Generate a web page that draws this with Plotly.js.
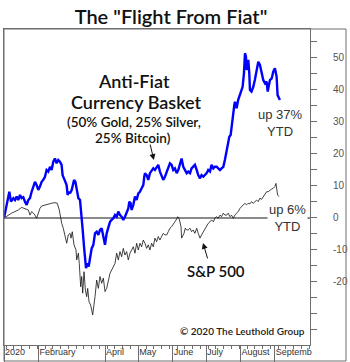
<!DOCTYPE html>
<html>
<head>
<meta charset="utf-8">
<script src="https://cdn.plot.ly/plotly-3.0.1.min.js"></script>
<style>html,body{margin:0;padding:0;background:#fff;}#chart{width:350px;height:362px;}</style>
</head>
<body>
<div id="chart"></div>
<script>
// Days since Jan 1, 2020 and YTD % change
const basketDays = [0,4.8,6.3,8.4,9.9,11.4,12.9,14.4,15.9,17.4,18.9,20.4,21.9,23.4,24.9,26.4,27.9,29.4,30.9,32.4,33.9,35.4,36.9,38.4,39.9,41.4,42.9,44.4,45.9,47.4,48.9,50.4,51.9,52.8,54.1,55.3,56.4,57.3,58.6,59.5,61,61.9,63.1,64.3,65.5,67,68.5,69.4,70.3,70.9,72.1,73,73.9,75.1,76.3,77.5,79,80.5,82,83.5,85,86.5,88,89.5,91,92.5,94,95.5,97,98.5,100,101.5,103,104.5,106,107.5,109,110.5,112,112.9,114.1,115,116.5,118,119.5,121,122.5,124,125.5,126.4,127,128.5,130,131.5,133,134.5,136,137.5,139,140.5,142,143.5,145,146.6,148,149.5,151,152.5,154,155.6,157,158.6,160,161.5,163,164.6,166,167.6,169,170.5,172,173.6,175,176.6,178,179.6,181,182.6,184,185.6,187,188.6,190,191.6,193,194.6,196,197.6,199,200.6,202,203,204.2,205.1,206,206.6,207.5,208.1,209.6,211,212.6,214,215,216.2,217.1,218,218.6,219.5,220.1,221,221.6,223,224.6,226,227.6,229.1,230.6,232.2,233.6,235.1,236.6,237.6,238.7,239.6,241.2,242.6,244.1,245.6,246.5,247.7,248.6];
const basketValues = [0,8.2,5.1,6.2,5.6,6.7,5.6,7.2,6.2,6.5,5.1,4.1,5.6,6.2,8.2,9.8,11.3,10.3,8.75,9.8,11.3,11.9,12.9,15,14.5,16,15,17.6,18.6,17.1,18.1,17.6,16.6,13.4,11.9,11.3,10.3,7.2,8.2,7.7,8.75,10.3,11.9,11.3,8.75,6.2,5.6,2.5,-0.1,-3.75,-9,-14.2,-15.7,-14.2,-15.2,-12.6,-9.5,-8.4,-4.8,-4.3,-5.3,-3.75,-3.2,-5.8,-8.4,-4.8,-2.7,-1.2,-0.6,-0.1,0.9,0.4,2,0.9,0.4,-0.6,0.4,1.5,3,5.1,4.6,2.5,4.1,6.7,5.6,7.7,8.2,9.3,10.3,12.9,14,13.4,11.9,14,15,15.5,15,16,16.6,14.5,12.9,11.9,12.9,14.5,15.5,17.1,16.6,15,15.5,14,15,17.1,18.6,16,15,14,14.5,14,15.5,16,16.6,15,13.4,12.4,13.4,12.9,13.4,14,15,14.5,16.6,15.5,16,16,15.5,15,15.5,16,18.1,21.25,23.3,25.4,25.9,28.5,31.7,34.3,35.3,36.3,34.3,36.9,38.4,40,41,45.2,51.5,50.4,46.25,47.8,49.4,45.2,40,39.5,41,43.1,46.25,48.8,47.8,45.2,43.1,42.1,42.6,39.5,42.1,43.1,43.6,45.7,46.8,44.2,38.4,37.4,36.9];

const spxDays = [0,3.9,6.9,9.9,12.9,15.9,18.9,21.9,23.4,24.9,26.4,27.9,29.4,30.9,32.4,33.9,36.9,39.9,42.9,45.9,48,49.8,51.1,52,53.4,55,56.5,57.9,59.5,60.4,61.5,63.1,64.9,65.5,67,67.8,69.1,70,70.9,72.1,73.3,74.5,75.4,76.6,78.1,79.9,81.1,82,83.5,85,86.5,88,89.5,91,92.5,94,95.5,97,100,101.5,103,104.5,106,107.5,109,110.5,112,113.5,115,116.5,118,119.5,121,122.5,124,125.5,127,128.5,130,131.5,133,134.5,136,137.5,139,140.5,142,143.5,145,146.6,148,149.5,151,152.5,154,155.6,156.5,157.7,158.6,159.5,160,161,162.2,163.3,164.6,166,167.6,169,170.5,172,173.6,175,176.6,178,179.6,181,182.6,184,185.6,187,188.6,190,191.6,193,194.6,196,197.6,199,200.6,202,203.6,205,206.6,208,209.6,211,212.6,214,215.6,217,218.6,220,221.6,223,224.6,226,227.6,229,230.6,232,233.6,235,236.6,238,239.6,241,242.6,244,245,245.6,246.5,247.7];
const spxValues = [0,0.9,1.5,2,2.5,3.3,3,2.5,0.9,2,1.5,0.9,-0.1,1.5,3,3.75,4.1,4.4,4.6,4.8,4.6,2.5,-0.6,-1.7,-3.2,-5.8,-7.9,-5.3,-4.8,-6.3,-4.3,-8.4,-10,-13.1,-11,-14.2,-21.5,-18.3,-23.5,-16.8,-22.5,-24.6,-22,-26.2,-27.2,-30.3,-27.7,-24.6,-19.4,-22,-18.3,-20.4,-18.8,-23,-22,-19.4,-17.3,-16.25,-14.2,-11,-13.1,-10.5,-12.1,-9.5,-11.6,-10.5,-13.1,-11,-10,-9,-11,-7.9,-10,-7.9,-9,-6.9,-7.9,-9.5,-8.4,-10,-7.9,-9,-6.3,-7.4,-5.8,-6.9,-5.8,-4.8,-5.3,-5.3,-4.3,-3.2,-2.7,-1.7,-1.2,-0.3,0.4,-0.1,-1.2,-2.7,-6.3,-5.8,-4.8,-3.2,-3.75,-3.75,-3.2,-4.3,-3.75,-4.8,-3.2,-4.8,-6.3,-5.3,-4.3,-3.75,-2.7,-1.7,-1.2,-0.6,-1.2,-0.1,0.4,-0.1,0.9,0.4,1.5,0.9,0.9,1.5,0.4,0.9,-0.1,0.9,1.5,2,3,3.5,4.1,4.6,4.1,4.6,4.4,5.1,4.6,5.1,5.6,5.1,6.2,5.8,6.7,7.2,8.2,8.2,8.75,9,9.3,9.8,10.8,9.8,7.2,6.7];

const monthTickDays = [0,31,91,121,152,182,213,244];
const monthTickLabels = ['2020','February','April','May','June','July','August','Septemb'];
const yTickValues = [-20,-10,0,10,20,30,40,50];
const yTickLabels = ['-20','-10','0','10','20','30','40','50'];

const frame = '#6e6e6e';
const traces = [
  {x: spxDays, y: spxValues, type: 'scatter', mode: 'lines', line: {color: '#111', width: 0.8}, hoverinfo: 'skip'},
  {x: basketDays, y: basketValues, type: 'scatter', mode: 'lines', line: {color: '#0000ff', width: 2.4}, hoverinfo: 'skip'}
];

const gothic = 'Lato, "Noto Sans", sans-serif';
const layout = {
  width: 350, height: 362,
  margin: {l: 4, r: 40, t: 29, b: 17, pad: 0},
  paper_bgcolor: '#fff', plot_bgcolor: '#fff',
  showlegend: false,
  title: {text: 'The "Flight From Fiat"', x: 171/350, xanchor: 'center', y: 1 - 17/362, yanchor: 'middle', xref: 'container', yref: 'container',
    font: {family: gothic, size: 20, color: '#111', weight: 600}},
  xaxis: {
    range: [0, 275.7], tickmode: 'array', tickvals: monthTickDays, ticktext: monthTickLabels,
    tickangle: 0, automargin: false,
    ticks: 'outside', ticklen: 17, tickwidth: 1, tickcolor: frame,
    showline: true, linecolor: frame, linewidth: 1, mirror: true,
    showgrid: false, zeroline: false,
    ticklabelposition: 'outside right', ticklabelstandoff: -2,
    tickfont: {family: '"Liberation Sans", Arial, sans-serif', size: 9, color: '#333'},
    minor: {tickmode: 'linear', tick0: 2, dtick: 7, ticks: 'outside', ticklen: 3, tickwidth: 1, tickcolor: frame, showgrid: false}
  },
  yaxis: {
    side: 'right', range: [-39.7, 59.06], tickmode: 'array', tickvals: yTickValues, ticktext: yTickLabels,
    automargin: false,
    ticks: 'outside', ticklen: 6, tickwidth: 1, tickcolor: frame,
    showline: true, linecolor: frame, linewidth: 1, mirror: true,
    showgrid: false, zeroline: true, zerolinecolor: '#8a8a8a', zerolinewidth: 1.5,
    ticklabelstandoff: 14,
    tickfont: {family: '"Liberation Sans", Arial, sans-serif', size: 10, color: '#555'},
    minor: {tickmode: 'linear', tick0: 0, dtick: 5, ticks: 'outside', ticklen: 6, tickwidth: 1, tickcolor: frame, showgrid: false}
  },
  shapes: [
    {type: 'rect', xref: 'paper', yref: 'paper', x0: 0, x1: 342/306, y0: -16/316, y1: 1, line: {color: frame, width: 1}, fillcolor: 'rgba(0,0,0,0)', layer: 'above'}
  ],
  annotations: [
    {text: 'Anti-Fiat', xref: 'paper', yref: 'paper', x: 130/306, y: (345-81)/316, xanchor: 'center', yanchor: 'middle', showarrow: false,
      font: {family: gothic, size: 18, color: '#111', weight: 600}},
    {text: 'Currency Basket', xref: 'paper', yref: 'paper', x: 132/306, y: (345-101.5)/316, xanchor: 'center', yanchor: 'middle', showarrow: false,
      font: {family: gothic, size: 18, color: '#111', weight: 600}},
    {text: '(50% Gold, 25% Silver,', xref: 'paper', yref: 'paper', x: 129.5/306, y: (345-121.5)/316, xanchor: 'center', yanchor: 'middle', showarrow: false,
      font: {family: gothic, size: 13.5, color: '#111', weight: 600}},
    {text: '25% Bitcoin)', xref: 'paper', yref: 'paper', x: 128.5/306, y: (345-137.5)/316, xanchor: 'center', yanchor: 'middle', showarrow: false,
      font: {family: gothic, size: 13.5, color: '#111', weight: 600}},
    {text: '', x: 135, y: 18.1, ax: -4, ay: -17, showarrow: true, arrowhead: 2, arrowsize: 1.2, arrowwidth: 1, arrowcolor: '#111'},
    {text: 'S&P 500', xref: 'paper', yref: 'paper', x: 212/306, y: (345-271)/316, xanchor: 'center', yanchor: 'middle', showarrow: false,
      font: {family: gothic, size: 15, color: '#111', weight: 600}},
    {text: '', x: 179.3, y: -7.8, ax: 5, ay: 17, showarrow: true, arrowhead: 2, arrowsize: 1.2, arrowwidth: 1, arrowcolor: '#111'},
    {text: 'up 37%<br>YTD', xref: 'paper', yref: 'paper', x: 276/306, y: (345-122.5)/316, xanchor: 'center', yanchor: 'middle', showarrow: false,
      font: {family: '"Liberation Sans", Arial, sans-serif', size: 13, color: '#333'}},
    {text: 'up 6%<br>YTD', xref: 'paper', yref: 'paper', x: 283/306, y: (345-218)/316, xanchor: 'center', yanchor: 'middle', showarrow: false,
      bgcolor: '#fff', borderpad: 1,
      font: {family: '"Liberation Sans", Arial, sans-serif', size: 13, color: '#333'}},
    {text: '© 2020 The Leuthold Group', xref: 'paper', yref: 'paper', x: 303/306, y: (345-331)/316, xanchor: 'right', yanchor: 'middle', showarrow: false,
      font: {family: gothic, size: 10, color: '#222', weight: 600}}
  ]
};

Plotly.newPlot('chart', traces, layout, {staticPlot: true, displayModeBar: false});
</script>
</body>
</html>
